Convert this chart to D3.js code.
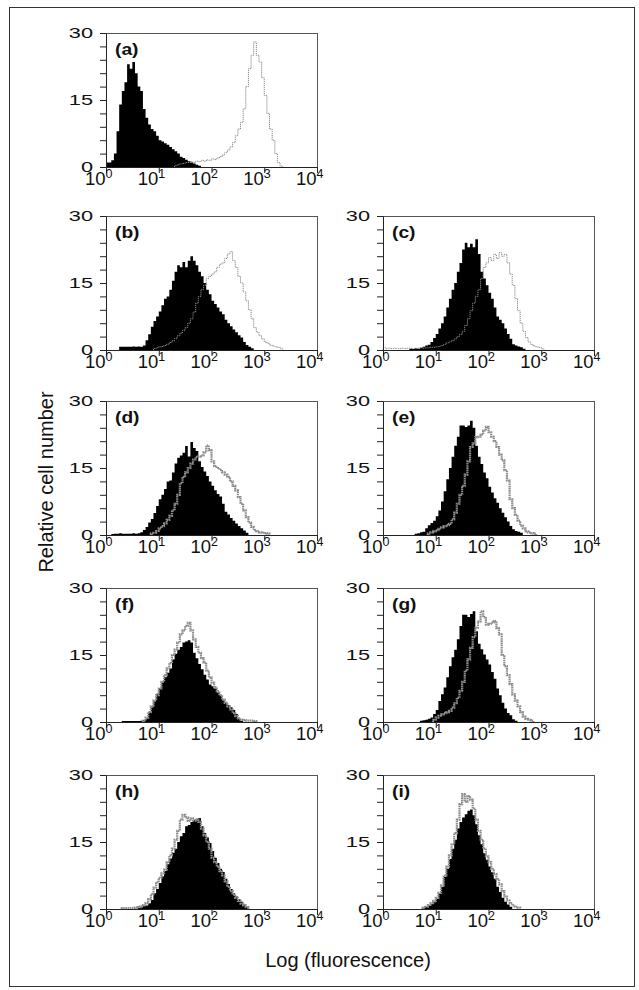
<!DOCTYPE html>
<html>
<head>
<meta charset="utf-8">
<script src="https://cdn.jsdelivr.net/npm/d3@7"></script>
<style>
  body { margin: 0; background: #fff; }
  svg { display: block; font-family: "Liberation Sans", Arial, Helvetica, sans-serif; }
</style>
</head>
<body>
<svg id="chart" width="639" height="990"></svg>
<script>
// one bin = 0.05 decade, counts; start = log10 of first bin
var binWidth = 0.05;
var decadeTicks = [1, 10, 100, 1000, 10000];
var yTicks = [0, 15, 30];
var panelNames = ["(a)", "(b)", "(c)", "(d)", "(e)", "(f)", "(g)", "(h)", "(i)"];

// control (black, filled)
var ctrlStart = [0.00, 0.25, 0.50, 0.10, 0.60, 0.30, 0.70, 0.60, 0.75];
var ctrlA = [1, 1, 1.5, 3, 8, 14, 17, 19, 23, 22, 23.5, 21, 18, 17, 13, 11, 9.5, 8.5, 8, 7, 6, 5.7, 5.3, 5, 4.5, 4, 3.5, 3, 2.3, 2, 1.6, 1.3, 1, 0.8, 0.5, 0.3];
var ctrlB = [0.7, 0.7, 0.7, 0.7, 0.7, 0.8, 0.7, 0.8, 0.7, 1, 2.2, 3.5, 5.2, 6.5, 7.5, 8.6, 10, 11.5, 12, 13.5, 15.5, 17.5, 19, 18.5, 19.7, 18.5, 20, 21, 20, 19, 17.5, 16.5, 15, 13.5, 12.5, 11, 10.3, 9.5, 8.6, 8, 6.8, 6, 5.3, 4.6, 4, 3.3, 2.8, 1.8, 1.1, 0.7, 0.4];
var ctrlC = [0.3, 0.2, 0.4, 0.3, 0.5, 0.7, 1, 1.2, 1.8, 2.7, 3.6, 4.8, 6, 7.5, 9.5, 11.5, 13.5, 15, 17.5, 19.5, 22.5, 24, 23, 23.8, 23, 24.8, 21.5, 17.5, 16, 14.5, 12.8, 11.5, 9.5, 7.5, 6.8, 6, 4.8, 3.6, 2.5, 1.3, 1, 0.8, 0.6, 0.3];
var ctrlD = [0.2, 0.3, 0.3, 0.4, 0.3, 0.3, 0.3, 0.3, 0.4, 0.3, 0.4, 0.6, 1.1, 1.8, 2.8, 3.6, 4.9, 6.5, 8, 9, 10.3, 12, 12.2, 14, 16, 17.3, 17.8, 18.4, 19.9, 17.6, 20.8, 19.5, 18.8, 16.5, 15.2, 14.2, 13.2, 12, 11, 10, 9.2, 8.6, 7, 5.2, 4.6, 3.8, 3.2, 2.6, 2, 1.5, 1, 0.5];
var ctrlE = [0.3, 0.4, 0.6, 0.7, 1.5, 2.2, 2.7, 3.2, 4.2, 5.5, 7.5, 9.8, 12.5, 15, 17.5, 20, 22, 24.5, 24.5, 24.2, 24.5, 25.6, 24, 20, 17.5, 15.9, 14, 12.7, 10.8, 9.5, 8.2, 7.2, 6, 5, 4, 3, 2, 1.3, 0.9, 0.7, 0.5];
var ctrlF = [0.2, 0.2, 0.2, 0.2, 0.2, 0.2, 0.2, 0.3, 0.4, 0.8, 2.2, 3.3, 4.7, 6.3, 7.5, 9, 10, 11, 12, 14, 15.3, 16.2, 16.8, 17.8, 18, 18.3, 17.8, 15.5, 14.3, 13, 11.8, 10.6, 9.5, 8.4, 8, 7.5, 6.6, 6, 5, 4.4, 3.8, 3.3, 2.7, 1.8, 0.8, 0.3];
var ctrlG = [0.3, 0.4, 0.5, 0.7, 1, 1.8, 2.7, 4.7, 6.2, 7.7, 10, 12.5, 14.5, 16.2, 18.5, 21.5, 24, 24, 23.5, 24.2, 24.8, 20.3, 17.5, 16.3, 15.1, 14, 12.9, 11.2, 9.7, 7.5, 6, 4.3, 3, 2, 1.5, 0.6, 0.3];
var ctrlH = [0.3, 0.4, 0.6, 0.8, 1.3, 2, 3.5, 4.5, 5.8, 7.3, 8.5, 10, 11.3, 12.6, 13.5, 15, 16.3, 17, 18.5, 18.8, 19.5, 20, 20.2, 20.4, 18.5, 17, 16, 14.8, 13, 11.5, 10.3, 9, 8.3, 6.8, 5.6, 4.5, 3.5, 2.8, 2.2, 1.6, 1, 0.5];
var ctrlI = [0.3, 0.5, 0.8, 1.2, 1.5, 2.3, 3.4, 5, 7.2, 9, 11.2, 13.5, 15.5, 18, 19.5, 20.5, 21.2, 22, 22.3, 21, 19, 16.5, 14.5, 12.5, 11, 9.5, 8.2, 6.8, 5, 3.8, 2.5, 1.6, 1, 0.5];

// test sample (grey outline)
var testStart = [1.30, 0.90, 0.00, 0.85, 0.85, 0.70, 0.95, 0.30, 0.75];
var testA = [0.3, 0.5, 0.7, 0.8, 1, 1, 1.2, 1, 1.3, 1.2, 1.5, 1.3, 1.6, 1.5, 1.8, 1.7, 2, 2.3, 2.7, 3.2, 3.8, 4.5, 5.5, 7, 8.5, 10, 13, 18, 22, 25, 28, 25, 23.5, 20, 16, 12, 8.5, 6, 3, 1, 0.2];
var testB = [0.3, 0.5, 0.7, 0.8, 1, 1.3, 1.7, 2.1, 2.6, 3.2, 3.8, 4.4, 5, 6, 7, 8.5, 10.5, 12, 13.5, 14.5, 16, 16.5, 17, 17.5, 18.5, 19.2, 19.5, 20.5, 21.5, 22, 20, 18.5, 16.5, 15, 13, 11, 9, 7, 5, 4, 3.2, 2.5, 1.8, 1.5, 1.1, 0.9, 0.7, 0.6, 0.3];
var testC = [0.5, 0.3, 0.4, 0.3, 0.4, 0.3, 0.3, 0.4, 0.3, 0.4, 0.4, 0.3, 0.4, 0.4, 0.5, 0.4, 0.5, 0.5, 0.6, 0.6, 0.7, 0.8, 1, 1.3, 1.6, 1.8, 2.1, 2.5, 3, 3.5, 4.2, 5.5, 7, 8.8, 10.5, 12, 13.5, 16, 18.5, 19.5, 20.7, 20, 21.4, 20.5, 21.8, 21, 21.4, 19.5, 17, 14.5, 11.5, 8.8, 6, 4.2, 2.8, 1.8, 1.2, 0.9, 0.7, 0.6, 0.3];
var testD = [0.3, 0.5, 0.9, 1.5, 2, 2.6, 3.4, 4.3, 5.5, 7, 9, 11.6, 13, 14, 15, 16, 16.9, 17.5, 17.6, 17.8, 18.5, 20, 19, 16.5, 15.4, 15, 14.6, 14, 13.5, 13, 12, 11, 10, 8.5, 7, 5.5, 4, 2.8, 1.8, 1.1, 0.8, 0.6, 0.5, 0.4, 0.3];
var testE = [0.3, 0.6, 0.8, 1.1, 1.4, 1.7, 2, 2.2, 2.5, 3.5, 5, 7, 9, 11, 13.5, 16.5, 19.7, 20.5, 21.9, 22, 22.5, 23.4, 24.2, 23, 22, 21, 19.7, 18, 16.7, 14.5, 12.2, 8, 6, 4.5, 3.2, 2.1, 1.5, 0.8, 0.6, 0.4, 0.3];
var testF = [0.3, 1, 2.2, 3.5, 4.8, 6, 7.5, 9, 10.5, 12, 13.2, 15, 16.2, 17.8, 19.6, 20.5, 21.5, 22.2, 20.5, 18.5, 16.8, 15.5, 14.3, 13.3, 11.5, 10, 8.8, 7.8, 6.9, 6, 5, 4.3, 3.5, 2.8, 2, 1.3, 0.8, 0.5, 0.4, 0.3, 0.3, 0.3, 0.2];
var testG = [0.5, 1, 1.4, 1.7, 2, 2.2, 2.5, 3.2, 4.2, 5.4, 7, 9, 11.5, 14, 16.6, 19, 21.1, 22.5, 24.8, 23.5, 21.8, 22, 22.3, 22.6, 21, 19.6, 15, 12.5, 10.5, 8.5, 6.2, 4.8, 3.5, 2.2, 1.2, 0.7, 0.5, 0.3];
var testH = [0.2, 0.2, 0.2, 0.2, 0.2, 0.3, 0.4, 0.6, 0.9, 1.3, 2.2, 3.3, 4.8, 6, 7, 8, 8.8, 10.5, 12, 13.5, 15.5, 17.5, 20, 21.1, 20.5, 19.7, 20.3, 19.8, 20, 19.5, 18, 16.5, 15, 13.5, 11.5, 10.5, 9.5, 8.5, 7.5, 6.2, 5, 4, 3.2, 2.5, 1.8, 1.2, 0.8, 0.4];
var testI = [0.3, 0.5, 0.9, 1.3, 1.8, 2.5, 3.6, 5.3, 7.5, 9.5, 12, 14.5, 17, 20, 23.5, 25.7, 24, 25.3, 24.5, 22.5, 20, 17.5, 15.5, 13.5, 11.8, 10.5, 9, 7.8, 6.7, 5.5, 4, 2.8, 1.9, 1.3, 0.8, 0.5, 0.3];

var ctrlSeries = [ctrlA, ctrlB, ctrlC, ctrlD, ctrlE, ctrlF, ctrlG, ctrlH, ctrlI];
var testSeries = [testA, testB, testC, testD, testE, testF, testG, testH, testI];

var svg = d3.select("#chart");

// outer frame of the figure
svg.append("rect")
	.attr("x", 9.5).attr("y", 7.5)
	.attr("width", 625).attr("height", 979)
	.attr("fill", "none")
	.attr("stroke", "#333")
	.attr("stroke-width", 1);

var colLeft = [106, 383];
var rowTop = [33, 216, 401, 588, 775];
var plotW = 211, plotH = 134;
// where each panel sits: [row, col]
var slots = [[0, 0], [1, 0], [1, 1], [2, 0], [2, 1], [3, 0], [3, 1], [4, 0], [4, 1]];

// turn a bin list into step points, closed to zero at both ends
function toSteps(start, counts) {
	var pts = [{ lg: start, c: 0 }];
	counts.forEach(function(c, i) {
		pts.push({ lg: start + i * binWidth, c: c });
	});
	pts.push({ lg: start + counts.length * binWidth, c: 0 });
	return pts;
}

slots.forEach(function(slot, p) {
	var left = colLeft[slot[1]], top = rowTop[slot[0]];
	var g = svg.append("g").attr("transform", "translate(" + left + "," + top + ")");

	var x = d3.scaleLog().domain([1, 10000]).range([0, plotW]);
	var y = d3.scaleLinear().domain([0, 30]).range([plotH, 0]);

	// frame (top and right sides)
	g.append("rect")
		.attr("x", 0.5).attr("y", 0.5)
		.attr("width", plotW).attr("height", plotH)
		.attr("fill", "none")
		.attr("stroke", "#555")
		.attr("stroke-width", 1);

	var area = d3.area()
		.curve(d3.curveStepAfter)
		.x(function(d) { return x(Math.pow(10, d.lg)); })
		.y0(plotH)
		.y1(function(d) { return y(d.c); });

	var line = d3.line()
		.curve(d3.curveStepAfter)
		.x(function(d) { return x(Math.pow(10, d.lg)); })
		.y(function(d) { return y(d.c); });

	g.append("path")
		.datum(toSteps(ctrlStart[p], ctrlSeries[p]))
		.attr("d", area)
		.attr("fill", "#000");

	// first three panels have a fine dotted outline, the rest a heavier stipple
	var thin = p < 3;
	g.append("path")
		.datum(toSteps(testStart[p], testSeries[p]))
		.attr("d", line)
		.attr("fill", "none")
		.attr("stroke", thin ? "#8a8a8a" : "#8c8c8c")
		.attr("stroke-width", thin ? 1 : 2.2)
		.attr("stroke-dasharray", thin ? "1.2,0.8" : "1.6,0.6");

	// axes
	var xAxis = g.append("g")
		.attr("transform", "translate(0," + plotH + ")")
		.call(d3.axisBottom(x).tickValues(decadeTicks).tickFormat("").tickSize(6).tickSizeOuter(0));
	var yAxis = g.append("g")
		.call(d3.axisLeft(y).tickValues(d3.range(0, 31, 3)).tickFormat("").tickSize(6).tickSizeOuter(0));
	[xAxis, yAxis].forEach(function(a) {
		a.selectAll("path, line").attr("stroke", "#222");
	});

	// x labels 10^n
	decadeTicks.forEach(function(v, i) {
		var t = g.append("text")
			.attr("x", x(v) - 21)
			.attr("y", plotH + 18)
			.attr("font-size", 18.5)
			.attr("fill", "#111");
		t.append("tspan").text("10");
		t.append("tspan").attr("dy", -7.5).attr("font-size", 12.5).text(i);
	});

	// y labels, drawn a bit wide like the original lettering
	yTicks.forEach(function(v) {
		g.append("text")
			.attr("transform", "translate(-13," + (y(v) + 5) + ") scale(1.45,1)")
			.attr("text-anchor", "end")
			.attr("font-size", 15)
			.attr("fill", "#111")
			.text(v);
	});

	g.append("text")
		.attr("transform", "translate(9,22) scale(1.2,1)")
		.attr("font-size", 16)
		.attr("font-weight", "bold")
		.attr("fill", "#111")
		.text(panelNames[p]);
});

svg.append("text")
	.attr("x", 348).attr("y", 967)
	.attr("text-anchor", "middle")
	.attr("font-size", 20)
	.attr("fill", "#111")
	.text("Log (fluorescence)");

svg.append("text")
	.attr("transform", "translate(53,482) rotate(-90)")
	.attr("text-anchor", "middle")
	.attr("font-size", 20)
	.attr("fill", "#111")
	.text("Relative cell number");
</script>
</body>
</html>
